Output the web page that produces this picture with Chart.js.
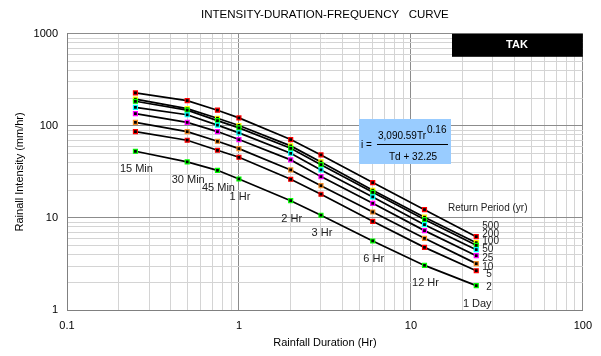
<!DOCTYPE html>
<html>
<head>
<meta charset="utf-8">
<script src="https://cdn.jsdelivr.net/npm/chart.js@4"></script>
<style>
  html, body { margin: 0; padding: 0; background: #fff; }
</style>
</head>
<body>
<canvas id="myChart" width="601" height="356"></canvas>
<script>
// durations in hours and their labels
const durations = [0.25, 0.5, 0.75, 1, 2, 3, 6, 12, 24];
const durationLabels = ['15 Min', '30 Min', '45 Min', '1 Hr', '2 Hr', '3 Hr', '6 Hr', '12 Hr', '1 Day'];
const returnPeriods = ['2', '5', '10', '25', '50', '100', '200', '500'];

// intensities (mm/hr)
const tr2   = [53, 40.6, 32.9, 26.5, 15.4, 10.7, 5.62, 3.05, 1.84];
const tr5   = [86.7, 69.8, 54.3, 45.6, 26.3, 18.1, 9.18, 4.79, 2.67];
const tr10  = [109, 86.7, 68, 56.6, 33.2, 22.4, 11.6, 6.0, 3.19];
const tr25  = [136, 109, 86.7, 71, 42.7, 28.1, 14.4, 7.28, 3.89];
const tr50  = [159, 132, 102, 84, 50.4, 33.2, 16.9, 8.45, 4.52];
const tr100 = [185, 148, 114, 95, 57.1, 37.9, 19.0, 9.59, 5.04];
const tr200 = [195, 154, 121, 101, 60.6, 40.6, 20.0, 10.2, 5.39];
const tr500 = [228, 188, 148, 122, 71, 48.4, 24.2, 12.3, 6.26];

const xTickLabels = ['0.1', '1', '10', '100'];
const yTickLabels = ['1', '10', '100', '1000'];

const series = [tr2, tr5, tr10, tr25, tr50, tr100, tr200, tr500];
const markerColors = ['#00ff00', '#ff0000', '#f28c28', '#ff00ff', '#00ffff', '#00ff00', '#ffff00', '#ff0000'];

const FONT = 'Liberation Sans, Arial, sans-serif';

function logTicks(min, max) {
  const t = [];
  const e0 = Math.round(Math.log10(min)), e1 = Math.round(Math.log10(max));
  for (let e = e0; e < e1; e++) {
    for (let s = 1; s < 10; s++) t.push({value: Number((s * Math.pow(10, e)).toPrecision(3))});
  }
  t.push({value: max});
  return t;
}
function isDecade(v) {
  const l = Math.log10(v);
  return Math.abs(l - Math.round(l)) < 1e-6;
}

const datasets = series.map((vals, i) => ({
  label: returnPeriods[i] + ' yr',
  data: vals.map((v, j) => ({x: durations[j], y: v})),
  borderColor: '#000',
  borderWidth: 1.7,
  tension: 0,
  pointStyle: 'rect',
  pointRadius: 2.8,
  pointBorderWidth: 1.2,
  pointBackgroundColor: '#000',
  pointBorderColor: markerColors[i]
}));

// label offsets (px) next to the 24 hr points
const rpLabelDy = [2, 4, 4, 3, 0, -4, -8, -10];

const annotate = {
  id: 'annotate',
  afterDraw(chart) {
    const ctx = chart.ctx;
    const xs = chart.scales.x, ys = chart.scales.y;
    const area = chart.chartArea;
    ctx.save();

    // TAK header box
    ctx.fillStyle = '#000';
    ctx.fillRect(452, area.top, area.right - 452, 23);
    ctx.fillStyle = '#fff';
    ctx.font = 'bold 11px ' + FONT;
    ctx.textAlign = 'center';
    ctx.textBaseline = 'middle';
    ctx.fillText('TAK', 517, area.top + 11.5);

    // formula box
    ctx.fillStyle = '#99ccff';
    ctx.fillRect(359, 119, 92, 45);
    ctx.fillStyle = '#000';
    ctx.font = '10px ' + FONT;
    ctx.textAlign = 'left';
    ctx.fillText('i =', 361, 145);
    ctx.fillText('3,090.59Tr', 378, 136);
    ctx.fillText('0.16', 427, 130);
    ctx.fillText('Td + 32.25', 389, 157);
    ctx.beginPath();
    ctx.moveTo(377, 144.5);
    ctx.lineTo(448, 144.5);
    ctx.lineWidth = 1;
    ctx.strokeStyle = '#000';
    ctx.stroke();

    // duration labels under the 2 yr curve
    ctx.fillStyle = '#222';
    ctx.font = '11px ' + FONT;
    ctx.textAlign = 'center';
    durations.forEach((d, j) => {
      const px = xs.getPixelForValue(d);
      const py = ys.getPixelForValue(tr2[j]);
      ctx.fillText(durationLabels[j], px + 1, py + 18);
    });

    // return period labels
    const lastX = xs.getPixelForValue(durations[durations.length - 1]);
    ctx.font = '10px ' + FONT;
    ctx.textAlign = 'left';
    series.forEach((vals, i) => {
      const py = ys.getPixelForValue(vals[vals.length - 1]);
      const dx = returnPeriods[i].length === 1 ? 10 : 6;
      ctx.fillText(returnPeriods[i], lastX + dx, py + rpLabelDy[i]);
    });
    ctx.fillText('Return Period (yr)', 448, 208);

    ctx.restore();
  }
};

const config = {
  type: 'line',
  data: {datasets: datasets},
  options: {
    responsive: false,
    animation: false,
    layout: {padding: {left: 10, right: 18, top: 0, bottom: 4}},
    plugins: {
      legend: {display: false},
      tooltip: {enabled: false},
      title: {
        display: true,
        fullSize: false,
        text: 'INTENSITY-DURATION-FREQUENCY   CURVE',
        color: '#000',
        font: {family: FONT, size: 11.5, weight: 'normal'},
        padding: {top: 8, bottom: 12}
      }
    },
    scales: {
      x: {
        type: 'logarithmic',
        min: 0.1,
        max: 100,
        afterBuildTicks(scale) { scale.ticks = logTicks(0.1, 100); },
        afterFit(scale) { scale.height = 42; },
        border: {color: '#808080'},
        grid: {
          drawTicks: false,
          color: c => (c.tick && isDecade(c.tick.value)) ? '#8c8c8c' : '#d4d4d4'
        },
        ticks: {
          autoSkip: false,
          maxRotation: 0,
          minRotation: 0,
          padding: 9,
          color: '#000',
          font: {family: FONT, size: 11},
          callback(v) {
            if (!isDecade(v)) return '';
            return xTickLabels[Math.round(Math.log10(v)) + 1];
          }
        },
        title: {
          display: true,
          text: 'Rainfall Duration (Hr)',
          color: '#000',
          font: {family: FONT, size: 11},
          padding: {top: 0, bottom: 2}
        }
      },
      y: {
        type: 'logarithmic',
        min: 1,
        max: 1000,
        afterBuildTicks(scale) { scale.ticks = logTicks(1, 1000); },
        afterFit(scale) { scale.width = 57; },
        border: {color: '#808080'},
        grid: {
          drawTicks: false,
          color: c => (c.tick && isDecade(c.tick.value)) ? '#8c8c8c' : '#d4d4d4'
        },
        ticks: {
          autoSkip: false,
          padding: 9,
          color: '#000',
          font: {family: FONT, size: 11},
          callback(v) {
            if (!isDecade(v)) return '';
            return yTickLabels[Math.round(Math.log10(v))];
          }
        },
        title: {
          display: true,
          text: 'Rainall Intensity (mm/hr)',
          color: '#000',
          font: {family: FONT, size: 11},
          padding: {top: 3, bottom: 0}
        }
      }
    }
  },
  plugins: [annotate]
};

const myChart = new Chart(document.getElementById('myChart'), config);
</script>
</body>
</html>
